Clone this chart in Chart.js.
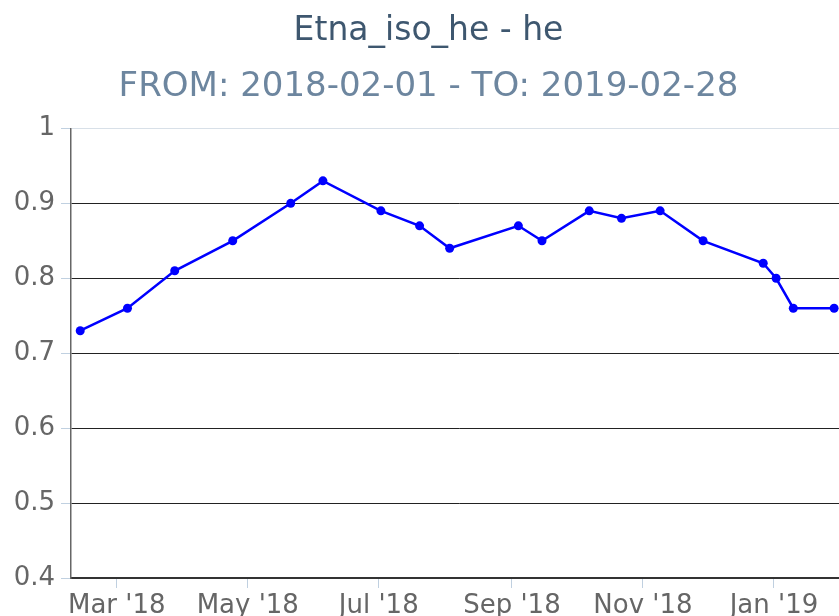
<!DOCTYPE html>
<html>
<head>
<meta charset="utf-8">
<script src="https://cdn.jsdelivr.net/npm/chart.js@4.4.1/dist/chart.umd.min.js"></script>
<style>
  html, body { margin: 0; padding: 0; background: #ffffff; overflow: hidden; }
  #wrap { width: 839px; height: 616px; overflow: hidden; }
  canvas { display: block; }
</style>
</head>
<body>
<div id="wrap"><canvas id="c" width="857" height="630"></canvas></div>
<script>
// ---- data ----
const titleText = 'Etna_iso_he - he';
const subtitleText = 'FROM: 2018-02-01 - TO: 2019-02-28';
const dates = ['2018-02-12','2018-03-06','2018-03-28','2018-04-24','2018-05-21','2018-06-05',
               '2018-07-02','2018-07-20','2018-08-03','2018-09-04','2018-09-15','2018-10-07',
               '2018-10-22','2018-11-09','2018-11-29','2018-12-27','2019-01-02','2019-01-10',
               '2019-01-29'];
const heValues = [0.73,0.76,0.81,0.85,0.90,0.93,0.89,0.87,0.84,0.87,0.85,0.89,
                  0.88,0.89,0.85,0.82,0.80,0.76,0.76];
const xTickDates = ['2018-03-01','2018-05-01','2018-07-01','2018-09-01','2018-11-01','2019-01-01'];
const xTickLabels = ["Mar '18","May '18","Jul '18","Sep '18","Nov '18","Jan '19"];
const yTickValues = [0.4,0.5,0.6,0.7,0.8,0.9,1.0];
const yTickLabels = ['0.4','0.5','0.6','0.7','0.8','0.9','1'];
const xRangeStart = '2018-02-07T17:00:00Z';
const xRangeEnd = '2019-02-04T00:00:00Z';

const points = dates.map((d, i) => ({ x: Date.parse(d), y: heValues[i] }));
const FONT = 'DejaVu Sans';

new Chart(document.getElementById('c'), {
  type: 'line',
  data: {
    datasets: [{
      data: points,
      borderColor: '#0000ff',
      backgroundColor: '#0000ff',
      borderWidth: 2.5,
      pointRadius: 4.5,
      pointHoverRadius: 4.5,
      pointBorderWidth: 0,
      pointBackgroundColor: '#0000ff',
      tension: 0,
      fill: false
    }]
  },
  options: {
    responsive: false,
    animation: false,
    events: [],
    layout: { padding: { left: 10, right: 10, top: 0, bottom: 0 } },
    plugins: {
      legend: { display: false },
      tooltip: { enabled: false },
      title: {
        display: true,
        text: titleText,
        color: '#3E576F',
        font: { family: FONT, size: 33, weight: 'normal' },
        padding: { top: 12, bottom: 0 }
      },
      subtitle: {
        display: true,
        text: subtitleText,
        color: '#6D869F',
        font: { family: FONT, size: 34, weight: 'normal' },
        padding: { top: 15, bottom: 21 }
      }
    },
    scales: {
      x: {
        type: 'linear',
        min: Date.parse(xRangeStart),
        max: Date.parse(xRangeEnd),
        afterBuildTicks: (scale) => {
          scale.ticks = xTickDates.map(d => ({ value: Date.parse(d) }));
        },
        afterFit: (scale) => { scale.height = 52; },
        ticks: {
          autoSkip: false,
          maxRotation: 0,
          padding: 3,
          color: '#666666',
          font: { family: FONT, size: 26 },
          callback: (v, i) => xTickLabels[i]
        },
        grid: {
          drawOnChartArea: false,
          drawTicks: true,
          tickLength: 10,
          tickColor: '#C0D0E0',
          color: '#C0D0E0'
        },
        border: { display: true, color: '#333333', width: 2 }
      },
      y: {
        type: 'linear',
        min: 0.4,
        max: 1.0,
        afterBuildTicks: (scale) => {
          scale.ticks = yTickValues.map(v => ({ value: v }));
        },
        afterFit: (scale) => { scale.width = 61; },
        ticks: {
          padding: 6,
          color: '#666666',
          font: { family: FONT, size: 26 },
          callback: (v, i) => yTickLabels[i]
        },
        grid: {
          drawTicks: true,
          tickLength: 10,
          tickColor: '#C0D0E0',
          color: (ctx) => (ctx.tick && ctx.tick.value === 1.0) ? '#D8E0E8' : '#222222',
          lineWidth: 1
        },
        border: { display: true, color: '#666666', width: 1.5 }
      }
    }
  }
});
</script>
</body>
</html>
